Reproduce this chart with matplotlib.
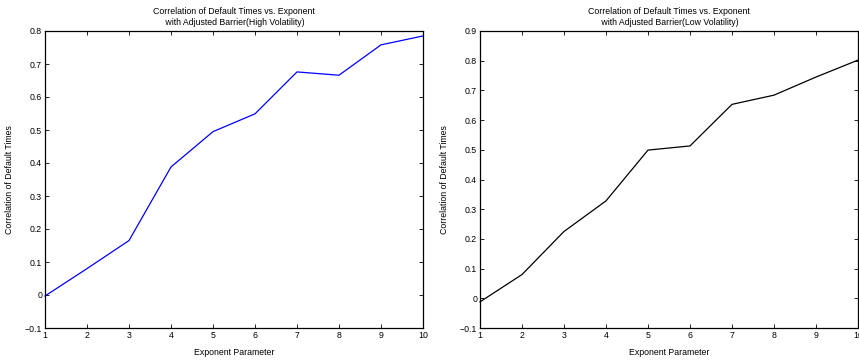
import matplotlib.pyplot as plt

plt.rcParams['font.family'] = ['Liberation Sans', 'DejaVu Sans']

# exponent parameter
x = [1, 2, 3, 4, 5, 6, 7, 8, 9, 10]
# correlation of default times, high volatility
corr_high = [-0.003, 0.080, 0.165, 0.388, 0.495, 0.549, 0.676, 0.666, 0.758, 0.785]
# correlation of default times, low volatility
corr_low = [-0.012, 0.080, 0.225, 0.328, 0.499, 0.513, 0.653, 0.684, 0.745, 0.802]

W, H = 859, 361
fig = plt.figure(figsize=(W / 100, H / 100), dpi=100)

# axes rectangles in pixels: left, top, right, bottom
ax1 = fig.add_axes([45 / W, 1 - 328 / H, (423 - 45) / W, (328 - 31) / H])
ax2 = fig.add_axes([480 / W, 1 - 328 / H, (858 - 480) / W, (328 - 31) / H])

fs = 6.3

def style(ax, title, ymax):
    ax.set_xlim(1, 10)
    ax.set_ylim(-0.1, ymax)
    ax.set_xticks(range(1, 11))
    yt = [round(-0.1 + 0.1 * i, 1) for i in range(int(round((ymax + 0.1) / 0.1)) + 1)]
    ax.set_yticks(yt)
    ax.set_yticklabels(['\u22120.1' if v == -0.1 else ('0' if v == 0 else f'{v:g}') for v in yt])
    ax.tick_params(direction='in', length=3, width=0.6, labelsize=fs,
                   top=True, right=True, pad=2)
    for s in ax.spines.values():
        s.set_linewidth(0.9)
    ax.set_title(title, fontsize=fs, pad=4, linespacing=1.3)
    ax.set_xlabel('Exponent Parameter', fontsize=fs, labelpad=6)
    ax.set_ylabel('Correlation of Default Times', fontsize=fs, labelpad=8)

ax1.plot(x, corr_high, color='#0000ff', lw=0.9, clip_on=False)
style(ax1, 'Correlation of Default Times vs. Exponent\n with Adjusted Barrier(High Volatility)', 0.8)

ax2.plot(x, corr_low, color='black', lw=0.9, clip_on=False)
style(ax2, 'Correlation of Default Times vs. Exponent\n with Adjusted Barrier(Low Volatility)', 0.9)

fig.savefig('out.png', dpi=100)
